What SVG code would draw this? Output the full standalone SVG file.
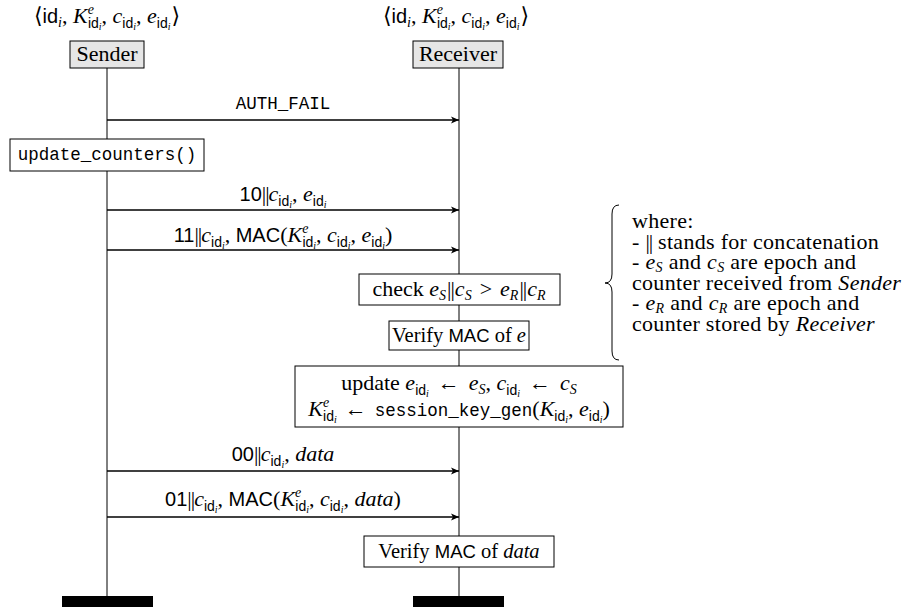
<svg xmlns="http://www.w3.org/2000/svg" xmlns:xlink="http://www.w3.org/1999/xlink" width="907" height="608" viewBox="0 0 907 608">
<style>
text{font-family:"Liberation Serif","DejaVu Serif",serif;font-size:22px;fill:#000}
.it{font-style:italic}
.sf{font-family:"Liberation Sans","DejaVu Sans",sans-serif;font-style:normal;font-size:20px}
.sfm{font-family:"Liberation Sans","DejaVu Sans",sans-serif;font-style:normal;font-size:18.5px}
.tt{font-family:"Liberation Mono","DejaVu Sans Mono",monospace;font-size:17.5px;font-style:normal}
.sb{font-size:14px}
.ssb{font-size:10px}
.bb{letter-spacing:-1px}
.vb{font-size:20.5px}
.note{letter-spacing:0.3px}
.actor{fill:#e6e6e6;stroke:#000;stroke-width:1}
.box{fill:#fff;stroke:#000;stroke-width:1}
.life{stroke:#000;stroke-width:1;fill:none}
.msg{stroke:#000;stroke-width:1.6;fill:none;marker-end:url(#ah)}
.bar{fill:#000}
</style>
<defs>
<marker id="ah" markerWidth="10" markerHeight="8" refX="8" refY="4" orient="auto" markerUnits="userSpaceOnUse">
<path d="M0,0.5 L8,4 L0,7.5 L2,4 Z" fill="#000"/>
</marker>
<text id="state" x="0" y="23" text-anchor="middle">⟨<tspan class="sf">id</tspan><tspan class="it sb" dy="4">i</tspan><tspan dy="-4">, </tspan><tspan class="it">K</tspan><tspan class="it sb" dy="-9">e</tspan><tspan class="sf sb" dx="-6" dy="14">id</tspan><tspan class="it ssb" dy="2">i</tspan><tspan dy="-7">, </tspan><tspan class="it">c</tspan><tspan class="sf sb" dy="5">id</tspan><tspan class="it ssb" dy="2">i</tspan><tspan dy="-7">, </tspan><tspan class="it">e</tspan><tspan class="sf sb" dy="5">id</tspan><tspan class="it ssb" dy="2">i</tspan><tspan dx="1" dy="-7">⟩</tspan></text>
</defs>

<g id="connectors">
<line class="life" x1="107" y1="68" x2="107" y2="596"/>
<line class="life" x1="459" y1="68" x2="459" y2="596"/>
<line class="msg" x1="107" y1="120" x2="459" y2="120"/>
<line class="msg" x1="107" y1="210" x2="459" y2="210"/>
<line class="msg" x1="107" y1="250" x2="459" y2="250"/>
<line class="msg" x1="107" y1="471" x2="459" y2="471"/>
<line class="msg" x1="107" y1="517" x2="459" y2="517"/>
<text class="tt" x="283" y="109" text-anchor="middle">AUTH_FAIL</text>
<text x="283" y="201" text-anchor="middle"><tspan class="sf">10</tspan><tspan class="bb">||</tspan><tspan class="it">c</tspan><tspan class="sf sb" dy="5">id</tspan><tspan class="it ssb" dy="2">i</tspan><tspan dy="-7">, </tspan><tspan class="it">e</tspan><tspan class="sf sb" dy="5">id</tspan><tspan class="it ssb" dy="2">i</tspan></text>
<text x="283" y="242" text-anchor="middle"><tspan class="sf">11</tspan><tspan class="bb">||</tspan><tspan class="it">c</tspan><tspan class="sf sb" dy="5">id</tspan><tspan class="it ssb" dy="2">i</tspan><tspan dy="-7">, </tspan><tspan class="sf">MAC</tspan>(<tspan class="it">K</tspan><tspan class="it sb" dy="-9">e</tspan><tspan class="sf sb" dx="-6" dy="14">id</tspan><tspan class="it ssb" dy="2">i</tspan><tspan dy="-7">, </tspan><tspan class="it">c</tspan><tspan class="sf sb" dy="5">id</tspan><tspan class="it ssb" dy="2">i</tspan><tspan dy="-7">, </tspan><tspan class="it">e</tspan><tspan class="sf sb" dy="5">id</tspan><tspan class="it ssb" dy="2">i</tspan><tspan dy="-7">)</tspan></text>
<text x="283" y="461" text-anchor="middle"><tspan class="sf">00</tspan><tspan class="bb">||</tspan><tspan class="it">c</tspan><tspan class="sf sb" dy="5">id</tspan><tspan class="it ssb" dy="2">i</tspan><tspan dy="-7">, </tspan><tspan class="it">data</tspan></text>
<text x="283" y="506" text-anchor="middle"><tspan class="sf">01</tspan><tspan class="bb">||</tspan><tspan class="it">c</tspan><tspan class="sf sb" dy="5">id</tspan><tspan class="it ssb" dy="2">i</tspan><tspan dy="-7">, </tspan><tspan class="sf">MAC</tspan>(<tspan class="it">K</tspan><tspan class="it sb" dy="-9">e</tspan><tspan class="sf sb" dx="-6" dy="14">id</tspan><tspan class="it ssb" dy="2">i</tspan><tspan dy="-7">, </tspan><tspan class="it">c</tspan><tspan class="sf sb" dy="5">id</tspan><tspan class="it ssb" dy="2">i</tspan><tspan dy="-7">, </tspan><tspan class="it">data</tspan>)</text>
</g>

<g id="sender-state"><use xlink:href="#state" x="107"/></g>
<g id="receiver-state"><use xlink:href="#state" x="456"/></g>

<g id="sender">
<rect class="actor" x="70" y="41" width="74" height="27"/>
<text x="107" y="61" text-anchor="middle">Sender</text>
</g>
<g id="receiver">
<rect class="actor" x="413" y="41" width="90" height="27"/>
<text x="458" y="61" text-anchor="middle">Receiver</text>
</g>

<g id="update-counters">
<rect class="box" x="10" y="139" width="194" height="32"/>
<text class="tt" x="107" y="160" text-anchor="middle">update_counters()</text>
</g>

<g id="check">
<rect class="box" x="359" y="274" width="201" height="31"/>
<text x="459" y="296" text-anchor="middle">check <tspan class="it">e</tspan><tspan class="it sb" dy="4">S</tspan><tspan class="bb" dx="1" dy="-4">||</tspan><tspan class="it" dx="1">c</tspan><tspan class="it sb" dy="4">S</tspan><tspan dx="8" dy="-4">&gt;</tspan><tspan class="it" dx="8">e</tspan><tspan class="it sb" dy="4">R</tspan><tspan class="bb" dx="1" dy="-4">||</tspan><tspan class="it" dx="1">c</tspan><tspan class="it sb" dy="4">R</tspan></text>
</g>

<g id="verify-e">
<rect class="box" x="389" y="321" width="140" height="29"/>
<text class="vb" x="459" y="342" text-anchor="middle">Verify <tspan class="sfm">MAC</tspan> of <tspan class="it">e</tspan></text>
</g>

<g id="update-keys">
<rect class="box" x="295" y="366" width="328" height="61"/>
<text x="459" y="390" text-anchor="middle">update <tspan class="it">e</tspan><tspan class="sf sb" dy="5">id</tspan><tspan class="it ssb" dy="2">i</tspan><tspan dx="9" dy="-7">←</tspan><tspan class="it" dx="9">e</tspan><tspan class="it sb" dy="4">S</tspan><tspan dy="-4">, </tspan><tspan class="it">c</tspan><tspan class="sf sb" dy="5">id</tspan><tspan class="it ssb" dy="2">i</tspan><tspan dx="9" dy="-7">←</tspan><tspan class="it" dx="9">c</tspan><tspan class="it sb" dy="4">S</tspan></text>
<text x="459" y="416" text-anchor="middle"><tspan class="it">K</tspan><tspan class="it sb" dy="-9">e</tspan><tspan class="sf sb" dx="-6" dy="14">id</tspan><tspan class="it ssb" dy="2">i</tspan><tspan dx="8" dy="-7">←</tspan><tspan class="tt" dx="8">session_key_gen</tspan>(<tspan class="it">K</tspan><tspan class="sf sb" dy="5">id</tspan><tspan class="it ssb" dy="2">i</tspan><tspan dy="-7">, </tspan><tspan class="it">e</tspan><tspan class="sf sb" dy="5">id</tspan><tspan class="it ssb" dy="2">i</tspan><tspan dy="-7">)</tspan></text>
</g>

<g id="verify-data">
<rect class="box" x="364" y="536" width="190" height="31"/>
<text class="vb" x="459" y="558" text-anchor="middle">Verify <tspan class="sfm">MAC</tspan> of <tspan class="it">data</tspan></text>
</g>

<g id="note">
<path d="M619,205 Q612,205 612,214 L612,274 Q612,283 605,283 Q612,283 612,292 L612,351 Q612,360 619,360" fill="none" stroke="#000" stroke-width="1"/>
<text class="note" x="632" y="228">where:</text>
<text class="note" x="632" y="249">- <tspan class="bb">||</tspan> stands for concatenation</text>
<text class="note" x="632" y="269">- <tspan class="it">e</tspan><tspan class="it sb" dy="3">S</tspan><tspan dy="-3"> and </tspan><tspan class="it">c</tspan><tspan class="it sb" dy="3">S</tspan><tspan dy="-3"> are epoch and</tspan></text>
<text class="note" x="632" y="290">counter received from <tspan class="it">Sender</tspan></text>
<text class="note" x="632" y="310">- <tspan class="it">e</tspan><tspan class="it sb" dy="3">R</tspan><tspan dy="-3"> and </tspan><tspan class="it">c</tspan><tspan class="it sb" dy="3">R</tspan><tspan dy="-3"> are epoch and</tspan></text>
<text class="note" x="632" y="331">counter stored by <tspan class="it">Receiver</tspan></text>
</g>

<g id="sender-end"><rect class="bar" x="62" y="596" width="91" height="11"/></g>
<g id="receiver-end"><rect class="bar" x="413" y="596" width="91" height="11"/></g>
</svg>
